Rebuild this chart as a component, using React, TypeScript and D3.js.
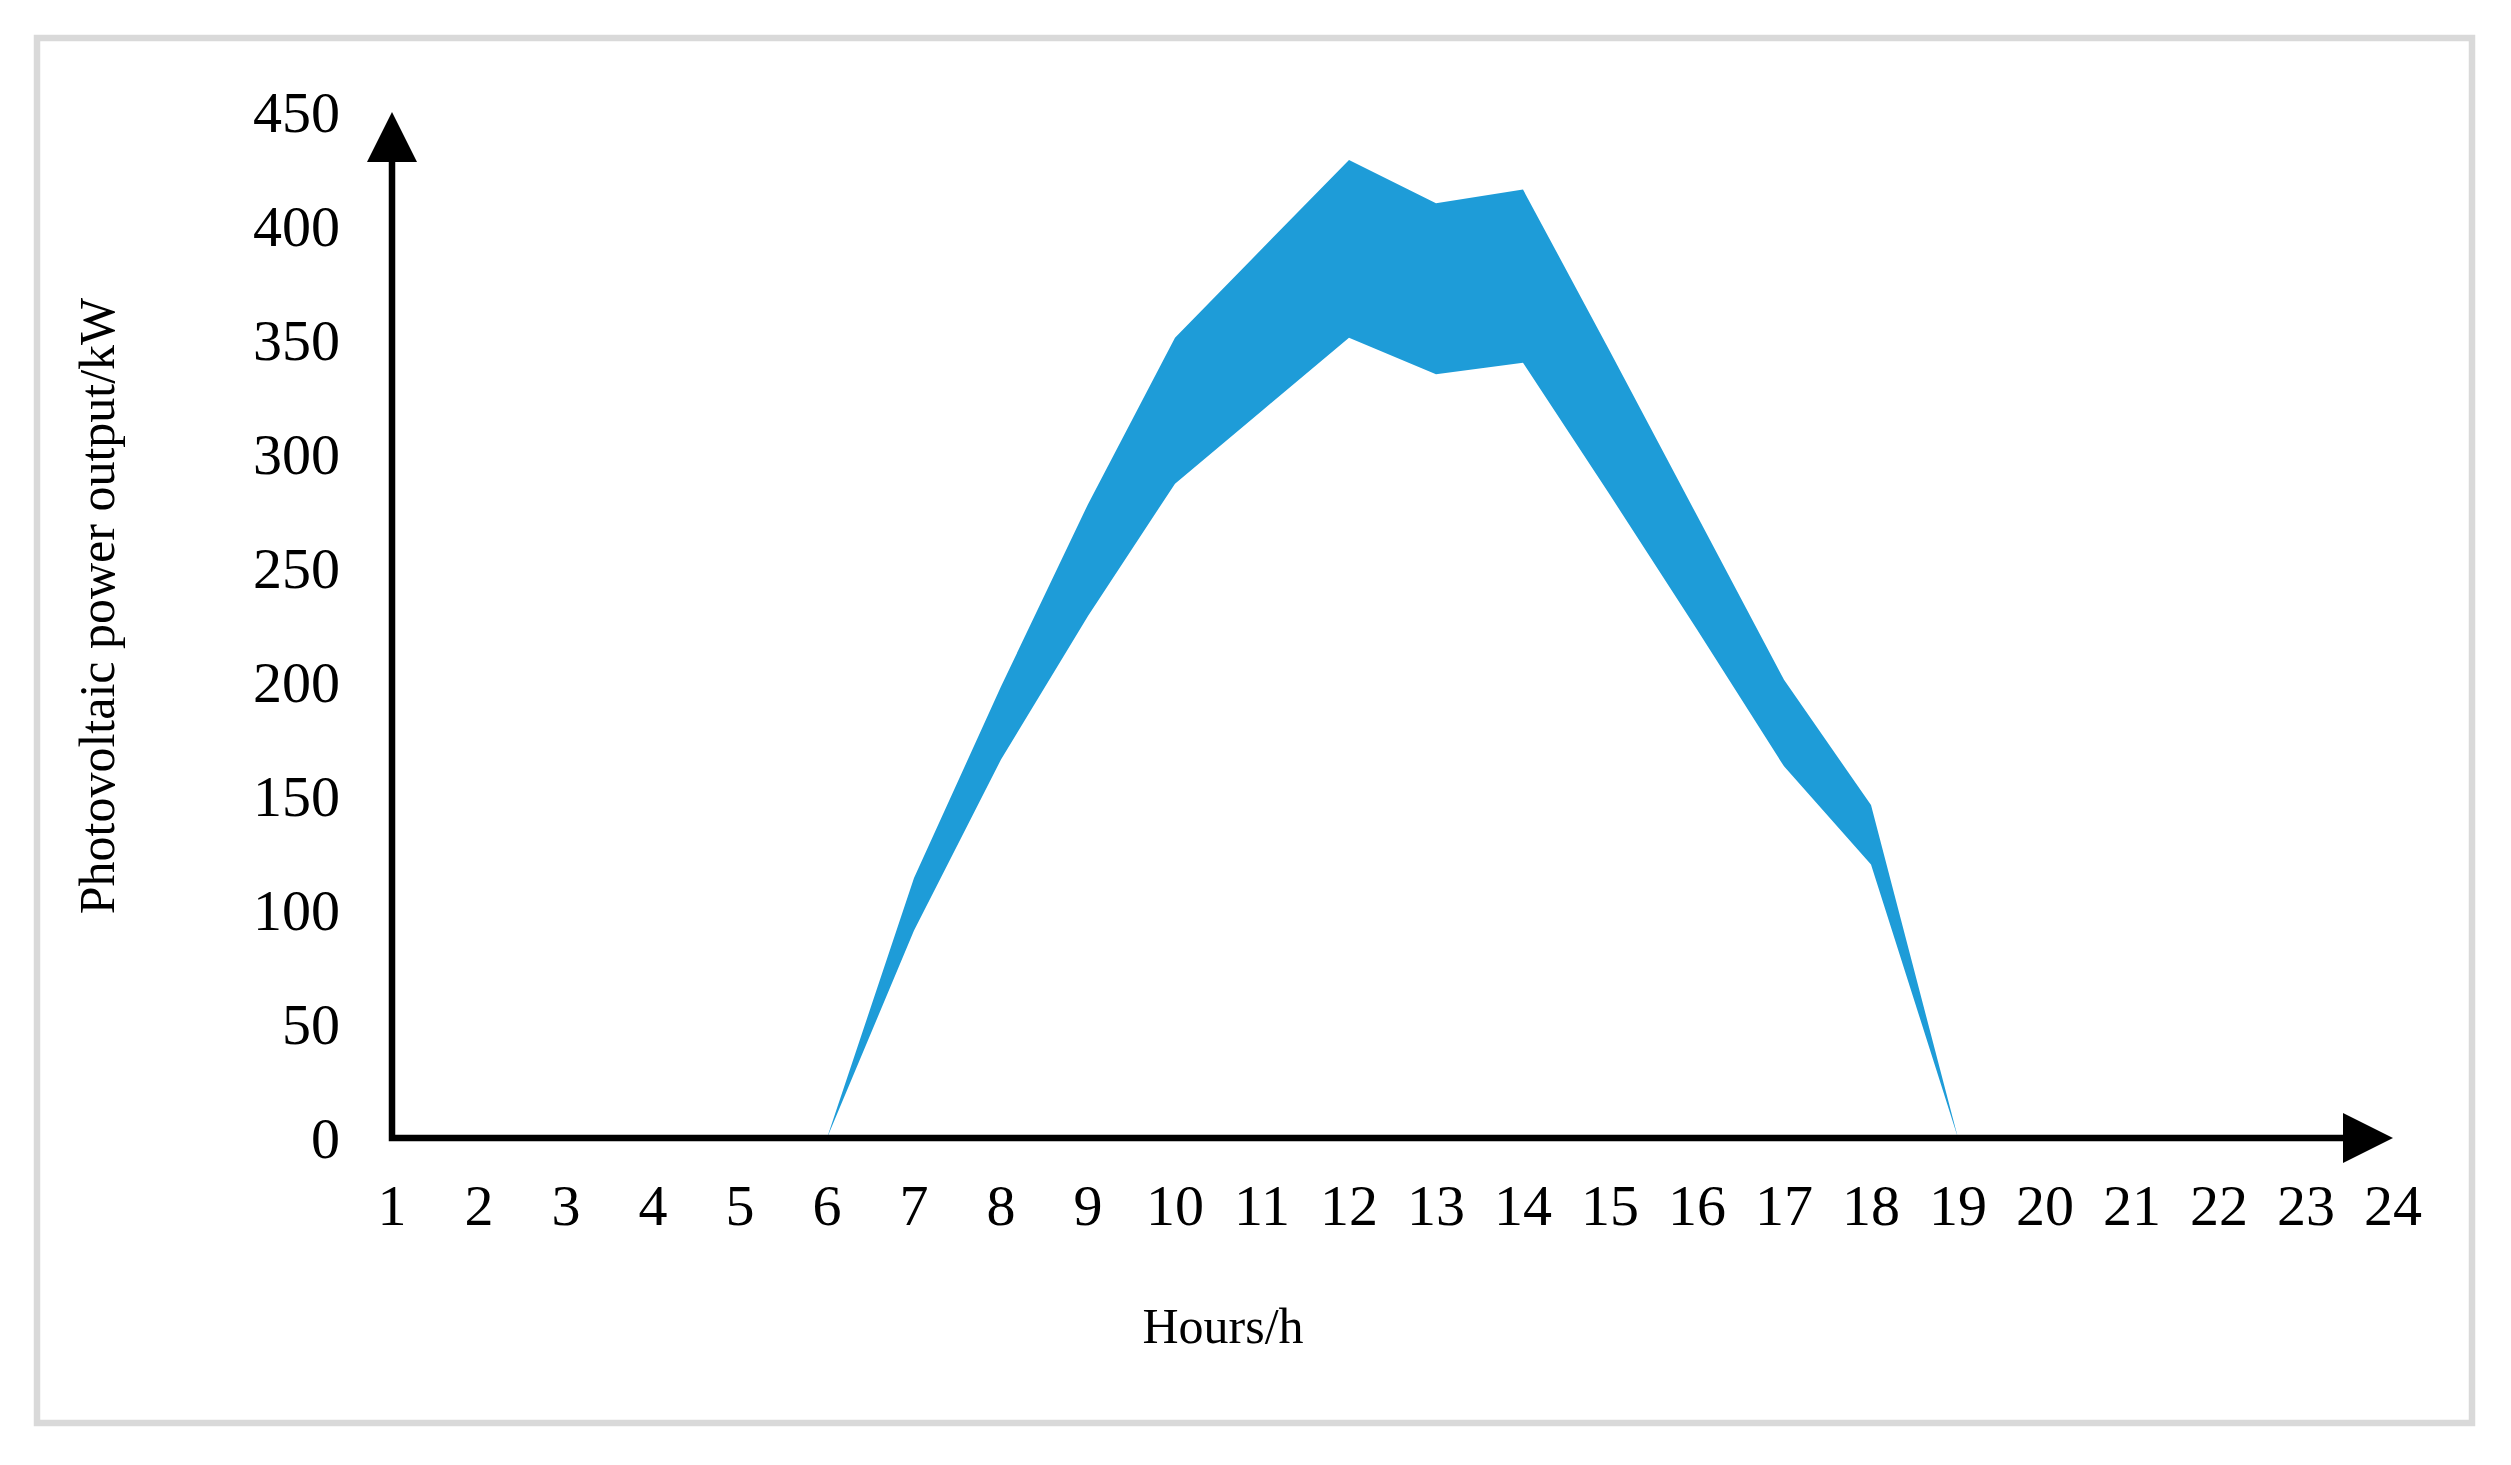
import React from "react";
import * as d3 from "d3";

const hours = [1, 2, 3, 4, 5, 6, 7, 8, 9, 10, 11, 12, 13, 14, 15, 16, 17, 18, 19, 20, 21, 22, 23, 24];
const upperOutput = [0, 0, 0, 0, 0, 0, 114, 198, 278, 351, 390, 429, 410, 416, 345, 273, 201, 146, 0, 0, 0, 0, 0, 0];
const lowerOutput = [0, 0, 0, 0, 0, 0, 91, 166, 229, 287, 319, 351, 335, 340, 282, 223, 163, 120, 0, 0, 0, 0, 0, 0];
const yTicks = [0, 50, 100, 150, 200, 250, 300, 350, 400, 450];
const xTitle = "Hours/h";
const yTitle = "Photovoltaic power output/kW";

const W = 2511;
const H = 1465;
const FONT = '"Liberation Serif", "Times New Roman", serif';
const BAND = "#1e9cd8";

export default function App() {
  const x = d3.scaleLinear().domain([1, 24]).range([392, 2393]);
  const y = d3.scaleLinear().domain([0, 450]).range([1138, 112]);

  const rows = hours
    .map((h, i) => ({ h, lo: lowerOutput[i], hi: upperOutput[i] }))
    .filter((r) => r.h >= 6 && r.h <= 19);

  const area = d3
    .area<{ h: number; lo: number; hi: number }>()
    .x((d) => x(d.h))
    .y0((d) => y(d.lo))
    .y1((d) => y(d.hi));

  const x0 = x(1);
  const y0 = y(0);
  const xEnd = x(24);
  const yTop = y(450);
  const arrow = 50;
  const half = 25;

  return (
    <svg
      width={W}
      height={H}
      style={{ position: "absolute", left: 0, top: 0, background: "#fff" }}
      xmlns="http://www.w3.org/2000/svg"
    >
      <rect x={0} y={0} width={W} height={H} fill="#fff" />
      <rect x={37} y={38} width={2435} height={1385} fill="#fff" stroke="#d9d9d9" strokeWidth={6.5} />

      <path d={area(rows) || ""} fill={BAND} />

      {/* axes */}
      <path
        d={`M${x0},${yTop + arrow} L${x0},${y0} L${xEnd - arrow},${y0}`}
        fill="none"
        stroke="#000"
        strokeWidth={6.5}
        strokeLinejoin="miter"
        strokeLinecap="butt"
      />
      <path d={`M${x0},${yTop} L${x0 - half},${yTop + arrow} L${x0 + half},${yTop + arrow} Z`} fill="#000" />
      <path d={`M${xEnd},${y0} L${xEnd - arrow},${y0 - half} L${xEnd - arrow},${y0 + half} Z`} fill="#000" />

      {/* y tick labels */}
      {yTicks.map((t) => (
        <text
          key={`y${t}`}
          x={340}
          y={y(t)}
          dy="0.34em"
          textAnchor="end"
          fontFamily={FONT}
          fontSize={58}
          fill="#000"
        >
          {t}
        </text>
      ))}

      {/* x tick labels */}
      {hours.map((h) => (
        <text
          key={`x${h}`}
          x={x(h)}
          y={1225}
          textAnchor="middle"
          fontFamily={FONT}
          fontSize={58}
          fill="#000"
        >
          {h}
        </text>
      ))}

      <text x={1223} y={1343} textAnchor="middle" fontFamily={FONT} fontSize={50} fill="#000">
        {xTitle}
      </text>
      <text
        transform={`translate(114,606) rotate(-90)`}
        textAnchor="middle"
        fontFamily={FONT}
        fontSize={50}
        fill="#000"
      >
        {yTitle}
      </text>
    </svg>
  );
}
